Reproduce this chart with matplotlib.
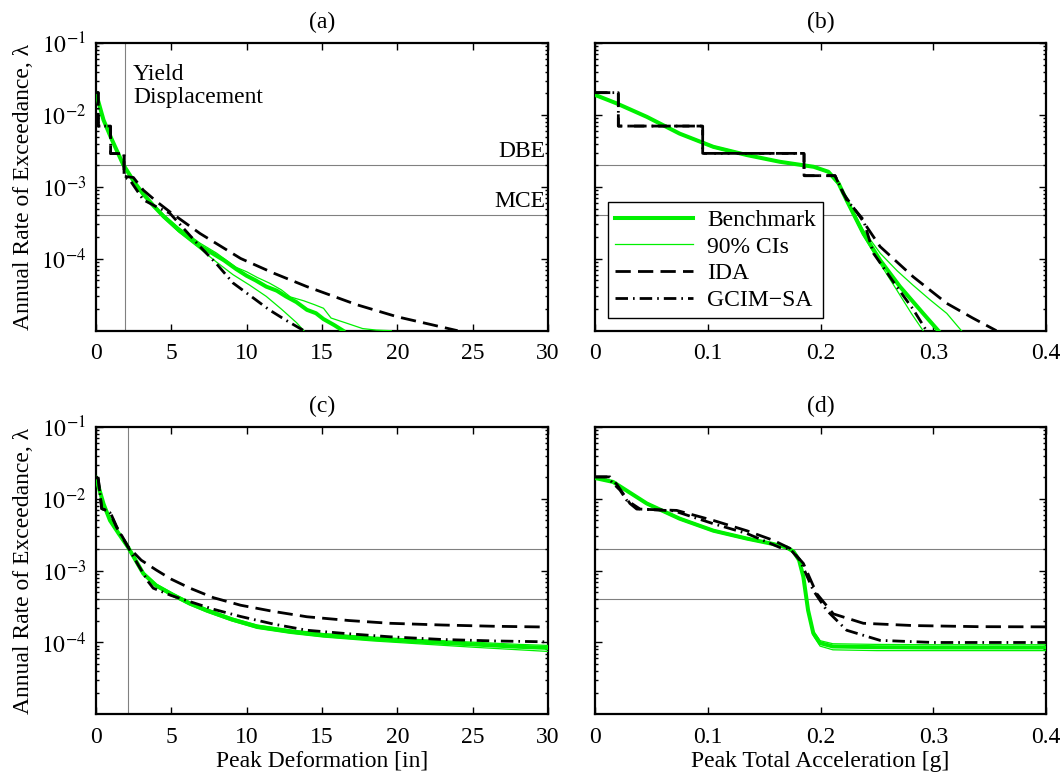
import numpy as np
import matplotlib
matplotlib.use("Agg")
import matplotlib.pyplot as plt
from matplotlib.ticker import LogLocator, NullFormatter, FixedLocator, FixedFormatter
from matplotlib.lines import Line2D

plt.rcParams['font.family'] = ['Liberation Serif', 'DejaVu Serif']
plt.rcParams['mathtext.fontset'] = 'stix'
FS = 17

# ---------------- data ----------------
DBE = 2.0e-3
MCE = 4.0e-4
yield_a = 1.95
yield_c = 2.15

# (a) Peak deformation
a_bench_x = [0, 0.5, 1.0, 1.8, 2.5, 3.1, 3.8, 4.5, 5.5, 6.9, 7.7, 8.5, 9.3, 10.0, 10.6, 11.3, 12.0, 12.6, 13.3, 14.0, 14.6, 15.1, 15.8, 16.4]
a_bench_y = [2.0e-2, 8.5e-3, 4.8e-3, 2.05e-3, 1.2e-3, 8.1e-4, 5.5e-4, 3.85e-4, 2.5e-4, 1.5e-4, 1.2e-4, 9.5e-5, 7.2e-5, 5.8e-5, 5.0e-5, 4.1e-5, 3.6e-5, 3.0e-5, 2.5e-5, 1.95e-5, 1.75e-5, 1.45e-5, 1.2e-5, 1.0e-5]
a_ciu_x = [0, 0.5, 1.0, 1.8, 2.5, 3.1, 3.8, 4.5, 5.5, 6.9, 8.0, 9.3, 10.0, 10.7, 11.5, 12.3, 12.9, 13.8, 14.5, 15.1, 15.6, 16.5, 17.7, 18.6, 19.6]
a_ciu_y = [2.0e-2, 8.7e-3, 4.9e-3, 2.1e-3, 1.25e-3, 8.4e-4, 5.8e-4, 4.1e-4, 2.7e-4, 1.65e-4, 1.2e-4, 7.6e-5, 6.6e-5, 5.5e-5, 4.6e-5, 3.7e-5, 2.95e-5, 2.6e-5, 2.3e-5, 2.05e-5, 1.5e-5, 1.3e-5, 1.07e-5, 1.02e-5, 1.0e-5]
a_cil_x = [0, 0.5, 1.0, 1.8, 2.5, 3.1, 3.8, 4.5, 5.5, 6.9, 8.0, 9.1, 10.2, 11.3, 12.3, 13.3, 13.8]
a_cil_y = [2.0e-2, 8.3e-3, 4.7e-3, 2.0e-3, 1.15e-3, 7.8e-4, 5.3e-4, 3.7e-4, 2.35e-4, 1.38e-4, 9.0e-5, 6.0e-5, 4.3e-5, 3.0e-5, 2.0e-5, 1.3e-5, 1.0e-5]
a_ida_x = [0, 0.15, 0.15, 0.97, 0.97, 1.86, 1.86, 2.48, 3.14, 4.0, 4.9, 6.9, 9.6, 11.8, 14.0, 17.3, 20.0, 22.0, 24.0]
a_ida_y = [2.04e-2, 2.04e-2, 7.0e-3, 7.0e-3, 2.9e-3, 2.9e-3, 1.4e-3, 1.35e-3, 9.0e-4, 6.3e-4, 4.5e-4, 2.25e-4, 1.01e-4, 6.3e-5, 4.1e-5, 2.3e-5, 1.56e-5, 1.25e-5, 1.0e-5]
a_gcim_x = [0, 0.15, 0.15, 0.97, 0.97, 1.86, 1.86, 2.3, 3.14, 4.0, 4.9, 6.9, 8.0, 9.1, 10.3, 11.5, 12.6, 13.8]
a_gcim_y = [2.04e-2, 2.04e-2, 7.0e-3, 7.0e-3, 2.9e-3, 2.9e-3, 1.4e-3, 1.2e-3, 6.6e-4, 5.3e-4, 4.3e-4, 1.48e-4, 8.5e-5, 4.6e-5, 3.0e-5, 1.95e-5, 1.4e-5, 1.0e-5]

# (b) Peak total acceleration
b_bench_x = [0, 0.019, 0.046, 0.075, 0.105, 0.135, 0.164, 0.194, 0.207, 0.216, 0.223, 0.238, 0.253, 0.2705, 0.291, 0.3045]
b_bench_y = [1.9e-2, 1.45e-2, 9.4e-3, 5.5e-3, 3.6e-3, 2.76e-3, 2.23e-3, 1.9e-3, 1.62e-3, 1.12e-3, 6.6e-4, 2.25e-4, 9.5e-5, 4.1e-5, 1.74e-5, 1.0e-5]
b_ciu_x = [0, 0.019, 0.046, 0.075, 0.105, 0.135, 0.164, 0.194, 0.207, 0.216, 0.223, 0.238, 0.253, 0.268, 0.282, 0.297, 0.312, 0.325]
b_ciu_y = [1.92e-2, 1.47e-2, 9.6e-3, 5.6e-3, 3.7e-3, 2.82e-3, 2.27e-3, 1.93e-3, 1.65e-3, 1.15e-3, 6.9e-4, 2.5e-4, 1.19e-4, 6.8e-5, 4.3e-5, 2.7e-5, 1.74e-5, 1.0e-5]
b_cil_x = [0, 0.019, 0.046, 0.075, 0.105, 0.135, 0.164, 0.194, 0.207, 0.216, 0.223, 0.238, 0.253, 0.268, 0.281, 0.291]
b_cil_y = [1.88e-2, 1.43e-2, 9.2e-3, 5.4e-3, 3.5e-3, 2.7e-3, 2.2e-3, 1.87e-3, 1.58e-3, 1.08e-3, 6.3e-4, 2.1e-4, 8.5e-5, 3.6e-5, 1.7e-5, 1.0e-5]
b_ida_x = [0, 0.0207, 0.0207, 0.0955, 0.0955, 0.1854, 0.1854, 0.2129, 0.2202, 0.235, 0.2528, 0.2823, 0.312, 0.335, 0.356]
b_ida_y = [2.04e-2, 2.04e-2, 7.0e-3, 7.0e-3, 2.92e-3, 2.92e-3, 1.43e-3, 1.43e-3, 8.1e-4, 3.85e-4, 1.48e-4, 5.6e-5, 2.4e-5, 1.5e-5, 1.0e-5]
b_gcim_x = [0, 0.0207, 0.0207, 0.0955, 0.0955, 0.1854, 0.1854, 0.2129, 0.2232, 0.238, 0.247, 0.2676, 0.282, 0.294]
b_gcim_y = [2.04e-2, 2.04e-2, 7.0e-3, 7.0e-3, 2.92e-3, 2.92e-3, 1.43e-3, 1.43e-3, 6.6e-4, 3.5e-4, 1.19e-4, 4.1e-5, 2.0e-5, 1.0e-5]

# (c) Peak deformation (second case)
c_bench_x = [0, 0.5, 0.93, 1.5, 2.14, 3.14, 4.0, 5.1, 6.2, 7.35, 9.0, 10.7, 12.9, 15.1, 18.4, 21.7, 25.0, 28.1, 30.0]
c_bench_y = [1.95e-2, 8.5e-3, 5.0e-3, 3.3e-3, 2.1e-3, 9.1e-4, 6.2e-4, 4.6e-4, 3.5e-4, 2.8e-4, 2.1e-4, 1.66e-4, 1.42e-4, 1.26e-4, 1.12e-4, 1.02e-4, 9.4e-5, 8.7e-5, 8.4e-5]
c_ciu_y = [1.97e-2, 8.7e-3, 5.1e-3, 3.4e-3, 2.15e-3, 9.5e-4, 6.5e-4, 4.85e-4, 3.7e-4, 2.95e-4, 2.2e-4, 1.75e-4, 1.5e-4, 1.33e-4, 1.19e-4, 1.09e-4, 1.01e-4, 9.4e-5, 9.1e-5]
c_cil_y = [1.93e-2, 8.3e-3, 4.9e-3, 3.2e-3, 2.05e-3, 8.8e-4, 5.9e-4, 4.4e-4, 3.35e-4, 2.65e-4, 2.0e-4, 1.57e-4, 1.34e-4, 1.19e-4, 1.05e-4, 9.5e-5, 8.6e-5, 7.9e-5, 7.5e-5]
c_ida_x = [0, 0.15, 0.38, 0.6, 0.93, 1.37, 2.14, 3.0, 4.0, 5.0, 6.24, 7.8, 9.6, 11.8, 14.0, 16.8, 19.5, 23.0, 26.5, 30.0]
c_ida_y = [2.02e-2, 1.9e-2, 7.3e-3, 7.0e-3, 6.6e-3, 4.1e-3, 2.14e-3, 1.4e-3, 1.02e-3, 7.6e-4, 5.7e-4, 4.2e-4, 3.3e-4, 2.7e-4, 2.28e-4, 2.02e-4, 1.85e-4, 1.75e-4, 1.68e-4, 1.64e-4]
c_gcim_x = [0, 0.15, 0.38, 0.6, 0.93, 1.37, 2.14, 2.8, 3.47, 3.8, 5.0, 6.24, 7.8, 9.6, 11.8, 14.0, 16.8, 19.5, 23.0, 26.5, 30.0]
c_gcim_y = [2.02e-2, 1.9e-2, 7.3e-3, 7.0e-3, 6.4e-3, 4.0e-3, 2.1e-3, 1.2e-3, 7.0e-4, 5.7e-4, 4.5e-4, 3.7e-4, 2.9e-4, 2.3e-4, 1.8e-4, 1.48e-4, 1.32e-4, 1.2e-4, 1.1e-4, 1.05e-4, 1.02e-4]

# (d) Peak total acceleration (second case)
d_bench_x = [0, 0.016, 0.046, 0.075, 0.105, 0.1345, 0.158, 0.17, 0.176, 0.181, 0.1848, 0.189, 0.1936, 0.1996, 0.211, 0.25, 0.3, 0.35, 0.4]
d_bench_y = [1.95e-2, 1.72e-2, 8.6e-3, 5.3e-3, 3.6e-3, 2.8e-3, 2.35e-3, 2.1e-3, 1.85e-3, 1.4e-3, 8.2e-4, 2.8e-4, 1.35e-4, 9.8e-5, 8.8e-5, 8.6e-5, 8.5e-5, 8.5e-5, 8.5e-5]
d_ciu_y = [1.97e-2, 1.74e-2, 8.8e-3, 5.45e-3, 3.7e-3, 2.88e-3, 2.4e-3, 2.15e-3, 1.9e-3, 1.45e-3, 8.6e-4, 3.0e-4, 1.45e-4, 1.06e-4, 9.6e-5, 9.4e-5, 9.3e-5, 9.3e-5, 9.3e-5]
d_cil_y = [1.93e-2, 1.7e-2, 8.4e-3, 5.15e-3, 3.5e-3, 2.72e-3, 2.3e-3, 2.05e-3, 1.8e-3, 1.35e-3, 7.8e-4, 2.6e-4, 1.25e-4, 8.9e-5, 7.9e-5, 7.7e-5, 7.7e-5, 7.7e-5, 7.7e-5]
d_ida_x = [0, 0.0133, 0.0192, 0.031, 0.037, 0.0724, 0.105, 0.1345, 0.158, 0.173, 0.1848, 0.1966, 0.2114, 0.238, 0.2823, 0.34, 0.4]
d_ida_y = [2.02e-2, 2.02e-2, 1.6e-2, 8.6e-3, 7.2e-3, 6.9e-3, 5.0e-3, 3.6e-3, 2.65e-3, 2.04e-3, 1.26e-3, 4.8e-4, 2.5e-4, 1.85e-4, 1.72e-4, 1.66e-4, 1.65e-4]
d_gcim_x = [0, 0.0104, 0.0222, 0.028, 0.04, 0.07, 0.105, 0.1345, 0.164, 0.173, 0.182, 0.1936, 0.2055, 0.2232, 0.2528, 0.3, 0.4]
d_gcim_y = [2.02e-2, 2.02e-2, 1.32e-2, 9.6e-3, 7.2e-3, 6.8e-3, 4.5e-3, 3.3e-3, 2.1e-3, 2.0e-3, 1.38e-3, 5.3e-4, 2.8e-4, 1.48e-4, 1.07e-4, 1.0e-4, 1.0e-4]

x_ticks_disp = [0, 5, 10, 15, 20, 25, 30]
x_ticks_acc = [0, 0.1, 0.2, 0.3, 0.4]
x_ticklabels_acc = ['0', '0.1', '0.2', '0.3', '0.4']
y_ticks = [1e-4, 1e-3, 1e-2, 1e-1]
y_ticklabels = [r'$10^{-4}$', r'$10^{-3}$', r'$10^{-2}$', r'$10^{-1}$']

titles = ['(a)', '(b)', '(c)', '(d)']
legend_labels = ['Benchmark', '90% CIs', 'IDA', 'GCIM\u2212SA']
ylabel = 'Annual Rate of Exceedance, \u03bb'
xlabel_disp = 'Peak Deformation [in]'
xlabel_acc = 'Peak Total Acceleration [g]'

# ---------------- style ----------------
GREEN = '#00f000'
GREY = '#808080'
LW_BLACK = 2.0
IDA_DASH = (5.5, 2.6)
GCIM_DASH = (4.5, 1.8, 0.6, 1.8)

W, H = 1063, 779
fig = plt.figure(figsize=(W / 100, H / 100), dpi=100)

def rect(l, r, t, b):
    return [l / W, 1 - b / H, (r - l) / W, (b - t) / H]

ax_a = fig.add_axes(rect(96, 548, 43, 330.7))
ax_b = fig.add_axes(rect(595, 1046, 43, 330.7))
ax_c = fig.add_axes(rect(96, 548, 427, 714.3))
ax_d = fig.add_axes(rect(595, 1046, 427, 714.3))

def style(ax, xt, xtl, xlim, title, left):
    ax.set_yscale('log')
    ax.set_ylim(1e-5, 1e-1)
    ax.set_xlim(*xlim)
    ax.xaxis.set_major_locator(FixedLocator(xt))
    ax.xaxis.set_major_formatter(FixedFormatter(xtl))
    ax.yaxis.set_major_locator(FixedLocator(y_ticks))
    ax.yaxis.set_minor_locator(LogLocator(base=10, subs=np.arange(2, 10)))
    ax.yaxis.set_minor_formatter(NullFormatter())
    if left:
        ax.yaxis.set_major_formatter(FixedFormatter(y_ticklabels))
    else:
        ax.yaxis.set_major_formatter(NullFormatter())
    ax.tick_params(which='both', direction='in', top=True, right=True, labelsize=FS, width=1.0)
    ax.tick_params(which='major', length=5)
    ax.tick_params(axis='x', which='major', pad=9)
    ax.tick_params(axis='y', which='major', pad=7)
    ax.tick_params(which='minor', length=2.5)
    for s in ax.spines.values():
        s.set_linewidth(1.6)
    ax.set_title(title, fontsize=FS, pad=11)
    ax.axhline(DBE, color=GREY, lw=0.8, zorder=1)
    ax.axhline(MCE, color=GREY, lw=0.8, zorder=1)

def curves(ax, bx, by, ux, uy, lx, ly, ix, iy, gx, gy):
    ax.plot(ux, uy, color=GREEN, lw=0.9, zorder=3)
    ax.plot(lx, ly, color=GREEN, lw=0.9, zorder=3)
    ax.plot(bx, by, color=GREEN, lw=2.9, zorder=4)
    ax.plot(ix, iy, color='black', lw=LW_BLACK, dashes=IDA_DASH, zorder=5)
    ax.plot(gx, gy, color='black', lw=LW_BLACK, dashes=GCIM_DASH, zorder=5)

style(ax_a, x_ticks_disp, [str(v) for v in x_ticks_disp], (0, 30), titles[0], True)
curves(ax_a, a_bench_x, a_bench_y, a_ciu_x, a_ciu_y, a_cil_x, a_cil_y, a_ida_x, a_ida_y, a_gcim_x, a_gcim_y)
ax_a.axvline(yield_a, color=GREY, lw=0.8, zorder=1)
ax_a.text(2.45, 5.1e-2, 'Yield\nDisplacement', fontsize=FS, va='top', ha='left', linespacing=1.1)
ax_a.text(29.8, 2.25e-3, 'DBE', fontsize=FS, va='bottom', ha='right')
ax_a.text(29.8, 4.5e-4, 'MCE', fontsize=FS, va='bottom', ha='right')
ax_a.set_ylabel(ylabel, fontsize=FS, labelpad=5)

style(ax_b, x_ticks_acc, x_ticklabels_acc, (0, 0.4), titles[1], False)
curves(ax_b, b_bench_x, b_bench_y, b_ciu_x, b_ciu_y, b_cil_x, b_cil_y, b_ida_x, b_ida_y, b_gcim_x, b_gcim_y)

style(ax_c, x_ticks_disp, [str(v) for v in x_ticks_disp], (0, 30), titles[2], True)
curves(ax_c, c_bench_x, c_bench_y, c_bench_x, c_ciu_y, c_bench_x, c_cil_y, c_ida_x, c_ida_y, c_gcim_x, c_gcim_y)
ax_c.axvline(yield_c, color=GREY, lw=0.8, zorder=1)
ax_c.set_ylabel(ylabel, fontsize=FS, labelpad=5)
ax_c.set_xlabel(xlabel_disp, fontsize=FS, labelpad=2)

style(ax_d, x_ticks_acc, x_ticklabels_acc, (0, 0.4), titles[3], False)
curves(ax_d, d_bench_x, d_bench_y, d_bench_x, d_ciu_y, d_bench_x, d_cil_y, d_ida_x, d_ida_y, d_gcim_x, d_gcim_y)
ax_d.set_xlabel(xlabel_acc, fontsize=FS, labelpad=2)

# legend in (b)
handles = [Line2D([], [], color=GREEN, lw=2.9),
           Line2D([], [], color=GREEN, lw=0.9),
           Line2D([], [], color='black', lw=LW_BLACK, dashes=IDA_DASH),
           Line2D([], [], color='black', lw=LW_BLACK, dashes=GCIM_DASH)]
leg = ax_b.legend(handles, legend_labels, loc='lower left', bbox_to_anchor=(0.029, 0.044),
                  fontsize=FS, frameon=True, fancybox=False, framealpha=1, edgecolor='black',
                  handlelength=3.3, handletextpad=0.6, borderpad=0.3, labelspacing=0.22,
                  borderaxespad=0)
leg.get_frame().set_linewidth(1.0)
leg.set_zorder(10)

fig.savefig('out.png', dpi=100)
